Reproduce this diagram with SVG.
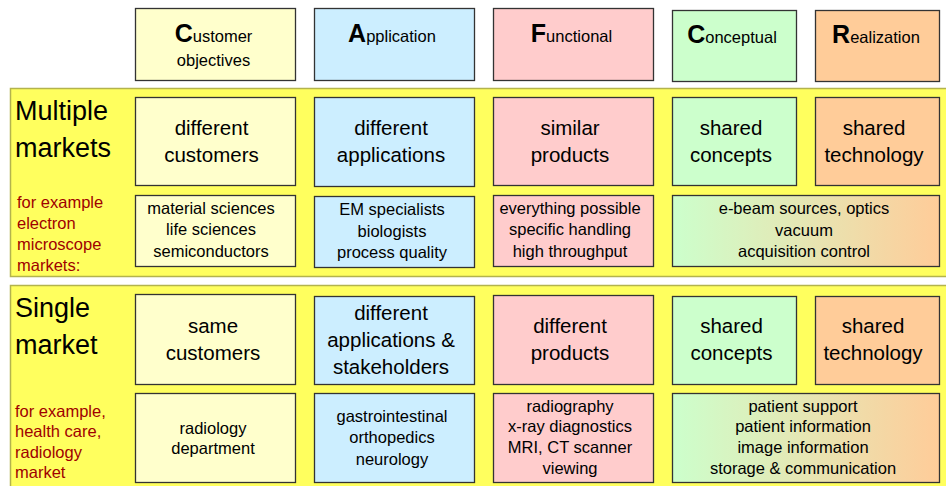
<svg xmlns="http://www.w3.org/2000/svg" width="946" height="486" viewBox="0 0 946 486">
<defs>
<linearGradient id="cr" x1="0" y1="0" x2="1" y2="0">
<stop offset="0" stop-color="#ccffcc"/>
<stop offset="0.5" stop-color="#e6e6b3"/>
<stop offset="1" stop-color="#ffcc99"/>
</linearGradient>
<style>
text{font-family:"Liberation Sans",Arial,sans-serif;fill:#000;}
.band{fill:#ffff5e;stroke:#b3b34d;stroke-width:1.5;}
.box{stroke:#333;stroke-width:1.3;}
.c{fill:#ffffcc;}
.a{fill:#cceeff;}
.f{fill:#ffcccc;}
.k{fill:#ccffcc;}
.r{fill:#ffcc99;}
.g{fill:url(#cr);}
.h{font-size:16.5px;text-anchor:middle;}
.hb{font-size:25px;font-weight:bold;}
.big{font-size:20.5px;text-anchor:middle;}
.sm{font-size:16.5px;text-anchor:middle;}
.title{font-size:27px;}
.ex{font-size:16.5px;fill:#a00000;}
</style>
</defs>
<g id="band-multiple"><rect class="band" x="10.5" y="88.5" width="945" height="188"/></g>
<g id="band-single"><rect class="band" x="10.5" y="285.5" width="945" height="215"/></g>

<g id="hdr-customer"><rect class="box c" x="135.5" y="8.5" width="160" height="72"/>
<text class="h" x="213.5" y="42"><tspan class="hb">C</tspan>ustomer</text>
<text class="h" x="213.5" y="66">objectives</text></g>
<g id="hdr-application"><rect class="box a" x="314.5" y="8.5" width="160" height="72"/>
<text class="h" x="392" y="42"><tspan class="hb">A</tspan>pplication</text></g>
<g id="hdr-functional"><rect class="box f" x="493.5" y="8.5" width="160" height="72"/>
<text class="h" x="571.5" y="42"><tspan class="hb">F</tspan>unctional</text></g>
<g id="hdr-conceptual"><rect class="box k" x="672.5" y="10.5" width="124" height="71"/>
<text class="h" x="732" y="43"><tspan class="hb">C</tspan>onceptual</text></g>
<g id="hdr-realization"><rect class="box r" x="815.5" y="10.5" width="124" height="71"/>
<text class="h" x="876" y="43"><tspan class="hb">R</tspan>ealization</text></g>

<g id="lbl-multiple"><text class="title" x="15" y="120">Multiple</text><text class="title" x="15" y="157">markets</text></g>
<g id="ex-multiple"><text class="ex" x="17" y="208">for example</text><text class="ex" x="17" y="229">electron</text><text class="ex" x="17" y="250">microscope</text><text class="ex" x="17" y="271">markets:</text></g>

<g id="m-customer"><rect class="box c" x="135.5" y="97.5" width="160" height="88"/>
<text class="big" x="211.5" y="135">different</text><text class="big" x="211.5" y="162">customers</text></g>
<g id="m-application"><rect class="box a" x="314.5" y="97.5" width="160" height="89"/>
<text class="big" x="391" y="135">different</text><text class="big" x="391" y="162">applications</text></g>
<g id="m-functional"><rect class="box f" x="493.5" y="97.5" width="160" height="88"/>
<text class="big" x="570" y="135">similar</text><text class="big" x="570" y="162">products</text></g>
<g id="m-conceptual"><rect class="box k" x="672.5" y="97.5" width="124" height="88"/>
<text class="big" x="731" y="135">shared</text><text class="big" x="731" y="162">concepts</text></g>
<g id="m-realization"><rect class="box r" x="815.5" y="97.5" width="124" height="88"/>
<text class="big" x="874" y="135">shared</text><text class="big" x="874" y="162">technology</text></g>

<g id="m-customer-ex"><rect class="box c" x="135.5" y="195.5" width="160" height="71"/>
<text class="sm" x="211" y="213.5">material sciences</text><text class="sm" x="211" y="235">life sciences</text><text class="sm" x="211" y="256.5">semiconductors</text></g>
<g id="m-application-ex"><rect class="box a" x="314.5" y="196.5" width="160" height="71"/>
<text class="sm" x="392" y="215">EM specialists</text><text class="sm" x="392" y="236.5">biologists</text><text class="sm" x="392" y="257.5">process quality</text></g>
<g id="m-functional-ex"><rect class="box f" x="493.5" y="195.5" width="160" height="71"/>
<text class="sm" x="570" y="213.5">everything possible</text><text class="sm" x="570" y="235">specific handling</text><text class="sm" x="570" y="256.5">high throughput</text></g>
<g id="m-cr-ex"><rect class="box g" x="672.5" y="195.5" width="267" height="71"/>
<text class="sm" x="804" y="214">e-beam sources, optics</text><text class="sm" x="804" y="235.5">vacuum</text><text class="sm" x="804" y="257">acquisition control</text></g>

<g id="lbl-single"><text class="title" x="15" y="317">Single</text><text class="title" x="15" y="354">market</text></g>
<g id="ex-single"><text class="ex" x="15" y="416.5">for example,</text><text class="ex" x="15" y="437">health care,</text><text class="ex" x="15" y="457.5">radiology</text><text class="ex" x="15" y="478">market</text></g>

<g id="s-customer"><rect class="box c" x="135.5" y="294.5" width="160" height="90"/>
<text class="big" x="213" y="333">same</text><text class="big" x="213" y="360">customers</text></g>
<g id="s-application"><rect class="box a" x="314.5" y="296.5" width="160" height="88"/>
<text class="big" x="391" y="319.5">different</text><text class="big" x="391" y="346.5">applications &amp;</text><text class="big" x="391" y="373.5">stakeholders</text></g>
<g id="s-functional"><rect class="box f" x="493.5" y="295.5" width="160" height="89"/>
<text class="big" x="570" y="333">different</text><text class="big" x="570" y="360">products</text></g>
<g id="s-conceptual"><rect class="box k" x="672.5" y="296.5" width="124" height="88"/>
<text class="big" x="731.5" y="333">shared</text><text class="big" x="731.5" y="360">concepts</text></g>
<g id="s-realization"><rect class="box r" x="815.5" y="296.5" width="124" height="88"/>
<text class="big" x="873" y="333">shared</text><text class="big" x="873" y="360">technology</text></g>

<g id="s-customer-ex"><rect class="box c" x="135.5" y="393.5" width="160" height="89"/>
<text class="sm" x="213" y="433.5">radiology</text><text class="sm" x="213" y="454">department</text></g>
<g id="s-application-ex"><rect class="box a" x="314.5" y="393.5" width="160" height="89"/>
<text class="sm" x="392" y="422">gastrointestinal</text><text class="sm" x="392" y="443">orthopedics</text><text class="sm" x="392" y="464.5">neurology</text></g>
<g id="s-functional-ex"><rect class="box f" x="493.5" y="393.5" width="160" height="89"/>
<text class="sm" x="570" y="411.5">radiography</text><text class="sm" x="570" y="432">x-ray diagnostics</text><text class="sm" x="570" y="453">MRI, CT scanner</text><text class="sm" x="570" y="474">viewing</text></g>
<g id="s-cr-ex"><rect class="box g" x="672.5" y="393.5" width="267" height="89"/>
<text class="sm" x="803" y="411.5">patient support</text><text class="sm" x="803" y="432">patient information</text><text class="sm" x="803" y="453">image information</text><text class="sm" x="803" y="474">storage &amp; communication</text></g>
<g id="connectors"/>
</svg>
